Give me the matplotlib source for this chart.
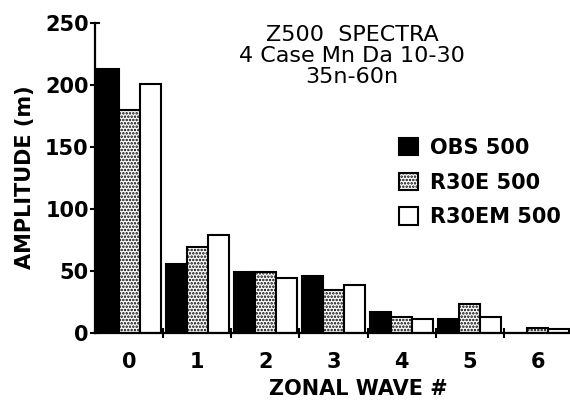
import numpy as np
import matplotlib
matplotlib.use('Agg')
import matplotlib.pyplot as plt

waves = [0, 1, 2, 3, 4, 5, 6]
obs_500 = [213, 56, 49, 46, 17, 11, 0]
r30e_500 = [180, 69, 49, 35, 13, 23, 4]
r30em_500 = [201, 79, 44, 39, 11, 13, 3]
series_names = ['OBS 500', 'R30E 500', 'R30EM 500']
y_ticks = [0, 50, 100, 150, 200, 250]

plt.rcParams['hatch.linewidth'] = 1.2
plt.rcParams['font.family'] = ['DejaVu Sans']

fig = plt.figure(figsize=(5.70, 4.05), dpi=100)
ax = fig.add_axes([0.1667, 0.178, 0.833, 0.765])

x = np.arange(len(waves))
w = 0.31
ax.bar(x - w, obs_500, w, color='black', edgecolor='black', linewidth=1.5, label=series_names[0])
ax.bar(x, r30e_500, w, color='white', edgecolor='black', linewidth=1.5, hatch='.....', label=series_names[1])
ax.bar(x + w, r30em_500, w, color='white', edgecolor='black', linewidth=1.5, label=series_names[2])

ax.set_xlim(-0.5, 6.47)
ax.set_ylim(0, 250)
ax.spines['top'].set_visible(False)
ax.spines['right'].set_visible(False)
ax.spines['left'].set_linewidth(1.6)
ax.spines['bottom'].set_linewidth(1.6)

ax.set_xticks(x)
ax.set_xticklabels([str(v) for v in waves], fontsize=15, fontweight='bold')
ax.tick_params(axis='x', which='major', length=0, pad=14)
ax.set_xticks(x[:-1] + 0.5, minor=True)
ax.tick_params(axis='x', which='minor', direction='inout', length=7, width=1.5)

ax.set_yticks(y_ticks)
ax.set_yticklabels([str(v) for v in y_ticks], fontsize=15, fontweight='bold')
ax.tick_params(axis='y', direction='inout', length=7, width=1.5, pad=1)

fig.text(25 / 570, 1 - 177 / 405, 'AMPLITUDE (m)', rotation=90, ha='center', va='center',
         fontsize=15, fontweight='bold')
fig.text(358 / 570, 1 - 389 / 405, 'ZONAL WAVE #', ha='center', va='center',
         fontsize=15, fontweight='bold')

fig.text(352 / 570, 1 - 56 / 405, 'Z500  SPECTRA\n4 Case Mn Da 10-30\n35n-60n', ha='center', va='center',
         fontsize=16, linespacing=1.05)

ax.legend(loc='upper left', bbox_to_anchor=(399 / 570, 1 - 138 / 405), bbox_transform=fig.transFigure,
          frameon=False, handlelength=0.9, handleheight=0.9, handletextpad=0.6, labelspacing=0.7,
          borderpad=0, borderaxespad=0, prop={'size': 15, 'weight': 'bold'})

fig.savefig('out.png', dpi=100)
